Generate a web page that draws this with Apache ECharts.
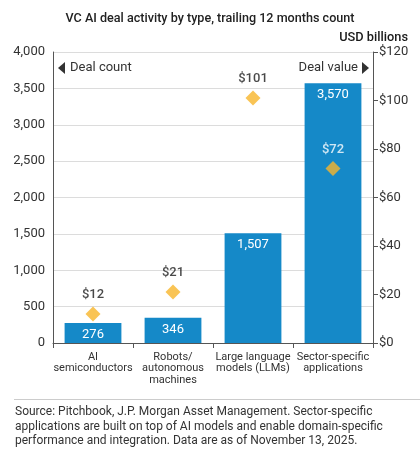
<!DOCTYPE html>
<html><head><meta charset="utf-8">
<script src="https://cdn.jsdelivr.net/npm/echarts@6/dist/echarts.min.js"></script>
<style>html,body{margin:0;padding:0;background:#fff}#c{width:420px;height:453px}</style>
</head><body><div id="c"></div>
<script>
const categories = ['AI\nsemiconductors', 'Robots/\nautonomous\nmachines', 'Large language\nmodels (LLMs)', 'Sector-specific\napplications'];
const dealCount = [276, 346, 1507, 3570];
const dealValue = [12, 21, 101, 72];
const leftTicks = [0, 4000, 500];
const rightTicks = [0, 120, 20];
const FONT = 'Roboto, "Noto Sans", sans-serif';
const chart = echarts.init(document.getElementById('c'));
chart.setOption({
  animation: false,
  textStyle: { fontFamily: FONT },
  grid: { left: 53, right: 47, top: 52, bottom: 110, containLabel: false },
  title: [
    { text: 'VC AI deal activity by type, trailing 12 months count', left: 'center', top: 7,
      textStyle: { fontSize: 12.6, fontWeight: 500, color: '#222', fontFamily: FONT } },
    { text: 'USD billions', right: 7, top: 26,
      textStyle: { fontSize: 12.8, fontWeight: 500, color: '#1a1a1a', fontFamily: FONT } }
  ],
  xAxis: {
    type: 'category', data: categories,
    axisLine: { show: true, lineStyle: { color: '#555', width: 1 } },
    axisTick: { show: true, alignWithLabel: false, length: 5, lineStyle: { color: '#555' } },
    axisLabel: { color: '#333', fontSize: 11, lineHeight: 11.5, margin: 8, interval: 0 }
  },
  yAxis: [
    { type: 'value', min: leftTicks[0], max: leftTicks[1], interval: leftTicks[2],
      axisLine: { show: true, lineStyle: { color: '#555' } },
      axisTick: { show: false },
      splitLine: { lineStyle: { color: '#dcdcdc' } },
      axisLabel: { color: '#333', fontSize: 13, margin: 8, formatter: v => v.toLocaleString('en-US') } },
    { type: 'value', min: rightTicks[0], max: rightTicks[1], interval: rightTicks[2], position: 'right',
      axisLine: { show: true, lineStyle: { color: '#555' } },
      axisTick: { show: true, length: 5, inside: false, lineStyle: { color: '#555' } },
      splitLine: { show: false },
      axisLabel: { color: '#333', fontSize: 13, margin: 6, formatter: v => '$' + v } }
  ],
  series: [
    { type: 'bar', data: dealCount, barWidth: '71%', yAxisIndex: 0,
      itemStyle: { color: '#1589c8' },
      label: { show: true, position: 'insideTop', color: '#fff', fontSize: 13, distance: 5,
        formatter: p => p.value.toLocaleString('en-US') } },
    { type: 'scatter', yAxisIndex: 1, symbol: 'diamond', symbolSize: 15,
      data: dealValue.map((v, i) => ({ value: v, label: { color: i === 3 ? '#fff' : '#1a1a1a' } })),
      itemStyle: { color: '#f7b52a' },
      label: { show: true, position: 'top', fontSize: 13, fontWeight: 500, distance: 5, formatter: p => '$' + p.value } }
  ],
  graphic: [
    { type: 'polygon', shape: { points: [[65, 62], [58, 68], [65, 74]] }, style: { fill: '#333' } },
    { type: 'text', left: 70, top: 61, style: { text: 'Deal count', fontSize: 13, fill: '#333', fontFamily: FONT } },
    { type: 'polygon', shape: { points: [[362, 62], [369, 68], [362, 74]] }, style: { fill: '#333' } },
    { type: 'text', right: 62, top: 61, style: { text: 'Deal value', fontSize: 13, fill: '#333', fontFamily: FONT } },
    { type: 'line', shape: { x1: 14, y1: 399.5, x2: 420, y2: 399.5 }, style: { stroke: '#ccc', lineWidth: 1 } },
    { type: 'text', left: 15, top: 405, style: {
      text: 'Source: Pitchbook, J.P. Morgan Asset Management. Sector-specific\napplications are built on top of AI models and enable domain-specific\nperformance and integration. Data are as of November 13, 2025.',
      fontSize: 12, lineHeight: 14.5, fill: '#333', fontFamily: FONT } }
  ]
});
</script></body></html>
